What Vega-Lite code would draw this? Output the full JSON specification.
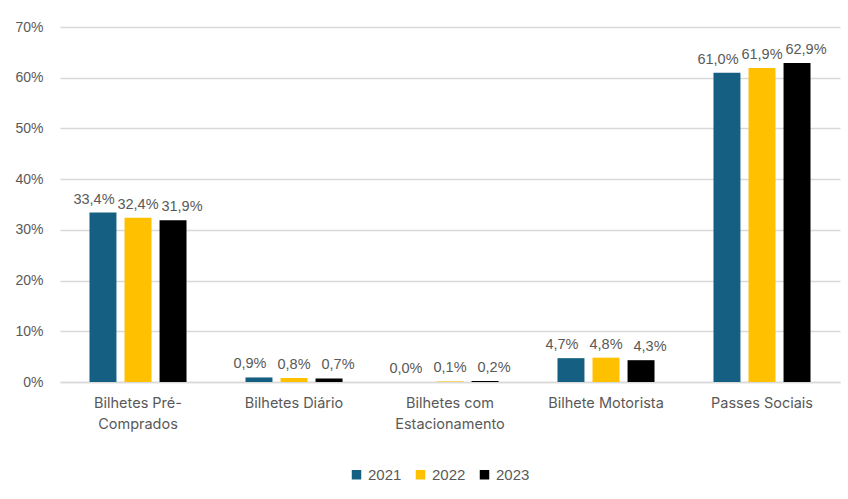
{
  "$schema": "https://vega.github.io/schema/vega-lite/v6.json",
  "autosize": "none",
  "width": 780,
  "height": 355,
  "padding": {"left": 60, "top": 27, "right": 8, "bottom": 117},
  "background": "white",
  "config": {
    "locale": {"number": {"decimal": ",", "thousands": ".", "grouping": [3], "currency": ["", " €"]}},
    "view": {"stroke": null},
    "font": "Liberation Sans"
  },
  "data": {
    "values": [
      {"categoria": "Bilhetes Pré-Comprados", "ano": "2021", "valor": 0.334},
      {"categoria": "Bilhetes Pré-Comprados", "ano": "2022", "valor": 0.324},
      {"categoria": "Bilhetes Pré-Comprados", "ano": "2023", "valor": 0.319},
      {"categoria": "Bilhetes Diário", "ano": "2021", "valor": 0.009},
      {"categoria": "Bilhetes Diário", "ano": "2022", "valor": 0.008},
      {"categoria": "Bilhetes Diário", "ano": "2023", "valor": 0.007},
      {"categoria": "Bilhetes com Estacionamento", "ano": "2021", "valor": 0.0},
      {"categoria": "Bilhetes com Estacionamento", "ano": "2022", "valor": 0.001},
      {"categoria": "Bilhetes com Estacionamento", "ano": "2023", "valor": 0.002},
      {"categoria": "Bilhete Motorista", "ano": "2021", "valor": 0.047},
      {"categoria": "Bilhete Motorista", "ano": "2022", "valor": 0.048},
      {"categoria": "Bilhete Motorista", "ano": "2023", "valor": 0.043},
      {"categoria": "Passes Sociais", "ano": "2021", "valor": 0.610},
      {"categoria": "Passes Sociais", "ano": "2022", "valor": 0.619},
      {"categoria": "Passes Sociais", "ano": "2023", "valor": 0.629}
    ]
  },
  "encoding": {
    "x": {
      "field": "categoria",
      "type": "nominal",
      "sort": null,
      "title": null,
      "scale": {"paddingInner": 0.378, "paddingOuter": 0.189},
      "axis": {
        "labelAngle": 0,
        "ticks": false,
        "domain": true,
        "domainColor": "#D9D9D9",
        "domainWidth": 1.5,
        "labelPadding": 14,
        "labelFont": "Inter",
        "labelFontSize": 14.5,
        "labelColor": "#595959",
        "labelLineHeight": 21,
        "labelExpr": "datum.value == 'Bilhetes Pré-Comprados' ? ['Bilhetes Pré-', 'Comprados'] : datum.value == 'Bilhetes com Estacionamento' ? ['Bilhetes com', 'Estacionamento'] : datum.value"
      }
    },
    "xOffset": {
      "field": "ano",
      "type": "nominal",
      "scale": {"paddingInner": 0.23, "paddingOuter": 0}
    },
    "y": {
      "field": "valor",
      "type": "quantitative",
      "title": null,
      "scale": {"domain": [0, 0.7], "nice": false},
      "axis": {
        "values": [0, 0.1, 0.2, 0.3, 0.4, 0.5, 0.6, 0.7],
        "format": ".0%",
        "ticks": false,
        "domain": false,
        "gridColor": "#D9D9D9",
        "gridWidth": 1.5,
        "labelPadding": 17,
        "labelFontSize": 14,
        "labelColor": "#595959"
      }
    }
  },
  "layer": [
    {
      "mark": {"type": "bar"},
      "encoding": {
        "color": {
          "field": "ano",
          "type": "nominal",
          "scale": {"domain": ["2021", "2022", "2023"], "range": ["#156082", "#FFC000", "#000000"]},
          "legend": {
            "title": null,
            "orient": "none",
            "legendX": 289,
            "legendY": 440,
            "direction": "horizontal",
            "symbolType": "square",
            "symbolSize": 90,
            "symbolStrokeWidth": 0,
            "labelFontSize": 15,
            "labelColor": "#595959",
            "labelOffset": 4,
            "columnPadding": 11
          }
        }
      }
    },
    {
      "transform": [{"filter": "datum.ano == '2021'"}],
      "mark": {"type": "text", "baseline": "bottom", "dy": -6, "dx": -9, "fontSize": 14.5, "color": "#595959"},
      "encoding": {
        "text": {"field": "valor", "type": "quantitative", "format": ".1%"}
      }
    },
    {
      "transform": [{"filter": "datum.ano == '2022'"}],
      "mark": {"type": "text", "baseline": "bottom", "dy": -6, "dx": 0, "fontSize": 14.5, "color": "#595959"},
      "encoding": {
        "text": {"field": "valor", "type": "quantitative", "format": ".1%"}
      }
    },
    {
      "transform": [{"filter": "datum.ano == '2023'"}],
      "mark": {"type": "text", "baseline": "bottom", "dy": -6, "dx": 9, "fontSize": 14.5, "color": "#595959"},
      "encoding": {
        "text": {"field": "valor", "type": "quantitative", "format": ".1%"}
      }
    }
  ]
}
